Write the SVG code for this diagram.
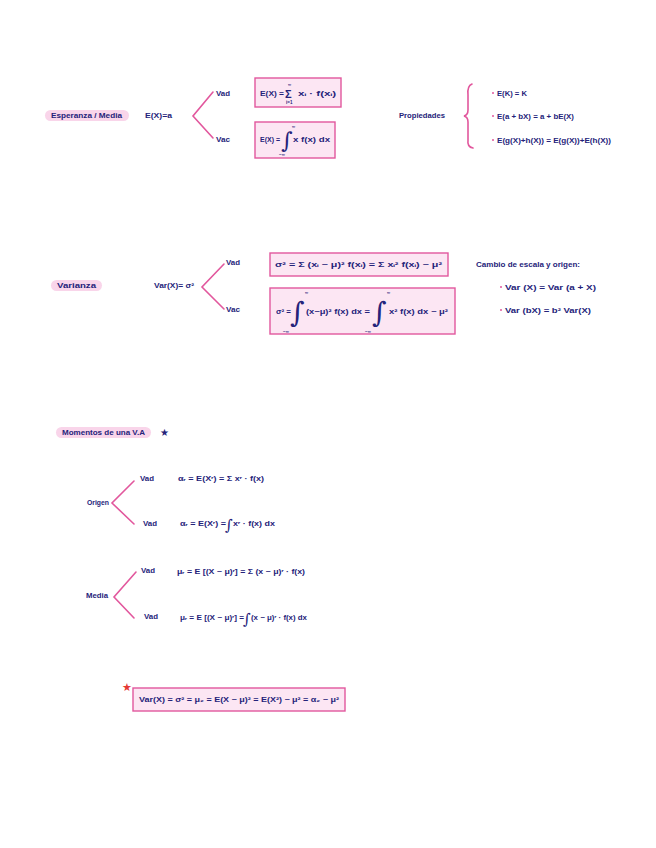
<svg xmlns="http://www.w3.org/2000/svg" width="656" height="848" viewBox="0 0 656 848">
<style>
.t{font-family:"Liberation Sans",Arial,sans-serif;font-size:7px;font-weight:bold;fill:#25237a}
.s{font-family:"Liberation Sans",Arial,sans-serif;font-size:4.5px;font-weight:bold;fill:#25237a}
.big{font-family:"DejaVu Serif",serif;font-size:20px;fill:#25237a}
.br{fill:none;stroke:#e2579d;stroke-width:1.6;stroke-linecap:round}
.box{fill:#fce6f3;stroke:#e2579d;stroke-width:1.4}
.pill{fill:#f9d5ea}
.dot{fill:#e2579d}
</style>
<rect width="656" height="848" fill="#ffffff"/>

<g id="connectors">
  <polyline class="br" points="213,92 193,116 213,138"/>
  <path class="br" d="M472,84 Q467,86 468,95 L468,110 Q468,115 464,116 Q468,117 468,122 L468,140 Q467,147 473,148"/>
  <polyline class="br" points="224,264 202,287 224,309"/>
  <polyline class="br" points="134,481 112,503 134,524"/>
  <polyline class="br" points="136,572 114,597 134,618"/>
</g>

<g id="esperanza">
  <rect class="pill" x="45" y="110" width="84" height="11" rx="5.5"/>
  <text class="t" x="51" y="118" textLength="71" lengthAdjust="spacingAndGlyphs">Esperanza / Media</text>
</g>
<g id="ex"><text class="t" x="145" y="118" textLength="27" lengthAdjust="spacingAndGlyphs">E(X)=a</text></g>
<g id="vad1"><text class="t" x="216" y="96" textLength="14" lengthAdjust="spacingAndGlyphs">Vad</text></g>
<g id="vac1"><text class="t" x="216" y="142" textLength="14" lengthAdjust="spacingAndGlyphs">Vac</text></g>
<g id="box-ed">
  <rect class="box" x="255" y="78" width="86" height="29"/>
  <text class="t" x="260" y="96" textLength="24" lengthAdjust="spacingAndGlyphs">E(X) =</text>
  <text class="t" x="285" y="98" style="font-size:11px">Σ</text>
  <text class="s" x="288" y="86">∞</text>
  <text class="s" x="286" y="104">i=1</text>
  <text class="t" x="298" y="96" textLength="38" lengthAdjust="spacingAndGlyphs">xᵢ · f(xᵢ)</text>
</g>
<g id="box-ec">
  <rect class="box" x="255" y="122" width="80" height="36"/>
  <text class="t" x="260" y="142" textLength="20" lengthAdjust="spacingAndGlyphs">E(X) =</text>
  <text class="big" x="281" y="148" style="font-size:22px">∫</text>
  <text class="s" x="292" y="128">∞</text>
  <text class="s" x="279" y="156">−∞</text>
  <text class="t" x="293" y="142" textLength="37" lengthAdjust="spacingAndGlyphs">x f(x) dx</text>
</g>
<g id="propiedades"><text class="t" x="399" y="118" textLength="46" lengthAdjust="spacingAndGlyphs">Propiedades</text></g>
<g id="prop1"><circle class="dot" cx="493" cy="93" r="1"/><text class="t" x="497" y="96" textLength="30" lengthAdjust="spacingAndGlyphs">E(K) = K</text></g>
<g id="prop2"><circle class="dot" cx="493" cy="116" r="1"/><text class="t" x="497" y="119" textLength="77" lengthAdjust="spacingAndGlyphs">E(a + bX) = a + bE(X)</text></g>
<g id="prop3"><circle class="dot" cx="493" cy="140" r="1"/><text class="t" x="497" y="143" textLength="114" lengthAdjust="spacingAndGlyphs">E(g(X)+h(X)) = E(g(X))+E(h(X))</text></g>

<g id="varianza">
  <rect class="pill" x="51" y="280" width="51" height="11" rx="5.5"/>
  <text class="t" x="57" y="288" textLength="39" lengthAdjust="spacingAndGlyphs">Varianza</text>
</g>
<g id="varx"><text class="t" x="154" y="288" textLength="40" lengthAdjust="spacingAndGlyphs">Var(X)= σ²</text></g>
<g id="vad2"><text class="t" x="226" y="265" textLength="14" lengthAdjust="spacingAndGlyphs">Vad</text></g>
<g id="vac2"><text class="t" x="226" y="312" textLength="14" lengthAdjust="spacingAndGlyphs">Vac</text></g>
<g id="box-vd">
  <rect class="box" x="270" y="253" width="178" height="23"/>
  <text class="t" x="275" y="267" textLength="167" lengthAdjust="spacingAndGlyphs">σ² = Σ (xᵢ − μ)² f(xᵢ)  =  Σ xᵢ² f(xᵢ) − μ²</text>
</g>
<g id="box-vc">
  <rect class="box" x="270" y="288" width="185" height="46"/>
  <text class="t" x="276" y="314" textLength="15" lengthAdjust="spacingAndGlyphs">σ² =</text>
  <text class="big" x="290" y="322" style="font-size:28px">∫</text>
  <text class="s" x="305" y="294">∞</text>
  <text class="s" x="283" y="333">−∞</text>
  <text class="t" x="306" y="314" textLength="64" lengthAdjust="spacingAndGlyphs">(x−μ)² f(x) dx =</text>
  <text class="big" x="372" y="322" style="font-size:28px">∫</text>
  <text class="s" x="387" y="294">∞</text>
  <text class="s" x="365" y="333">−∞</text>
  <text class="t" x="389" y="314" textLength="59" lengthAdjust="spacingAndGlyphs">x² f(x) dx − μ²</text>
</g>
<g id="cambio"><text class="t" x="476" y="267" textLength="104" lengthAdjust="spacingAndGlyphs">Cambio de escala y origen:</text></g>
<g id="cambio1"><circle class="dot" cx="501" cy="287" r="1"/><text class="t" x="505" y="290" textLength="91" lengthAdjust="spacingAndGlyphs">Var (X) = Var (a + X)</text></g>
<g id="cambio2"><circle class="dot" cx="501" cy="310" r="1"/><text class="t" x="505" y="313" textLength="86" lengthAdjust="spacingAndGlyphs">Var (bX) = b² Var(X)</text></g>

<g id="momentos">
  <rect class="pill" x="56" y="427" width="95" height="11" rx="5.5"/>
  <text class="t" x="62" y="435" textLength="83" lengthAdjust="spacingAndGlyphs">Momentos de una V.A</text>
  <text x="160" y="436" font-family="DejaVu Sans,sans-serif" font-size="10" fill="#25237a">★</text>
</g>
<g id="origen"><text class="t" x="87" y="505" textLength="22" lengthAdjust="spacingAndGlyphs">Origen</text></g>
<g id="vad3"><text class="t" x="140" y="481" textLength="14" lengthAdjust="spacingAndGlyphs">Vad</text></g>
<g id="vac3"><text class="t" x="143" y="526" textLength="14" lengthAdjust="spacingAndGlyphs">Vad</text></g>
<g id="or-d"><text class="t" x="178" y="481" textLength="86" lengthAdjust="spacingAndGlyphs">αᵣ = E(Xʳ) = Σ xʳ · f(x)</text></g>
<g id="or-c">
  <text class="t" x="180" y="526" textLength="46" lengthAdjust="spacingAndGlyphs">αᵣ = E(Xʳ) =</text>
  <text class="big" x="225" y="530" style="font-size:15px">∫</text>
  <text class="t" x="233" y="526" textLength="42" lengthAdjust="spacingAndGlyphs">xʳ · f(x) dx</text>
</g>
<g id="media"><text class="t" x="86" y="598" textLength="22" lengthAdjust="spacingAndGlyphs">Media</text></g>
<g id="vad4"><text class="t" x="141" y="573" textLength="14" lengthAdjust="spacingAndGlyphs">Vad</text></g>
<g id="vac4"><text class="t" x="144" y="619" textLength="14" lengthAdjust="spacingAndGlyphs">Vad</text></g>
<g id="me-d"><text class="t" x="177" y="574" textLength="128" lengthAdjust="spacingAndGlyphs">μᵣ = E [(X − μ)ʳ] =  Σ (x − μ)ʳ · f(x)</text></g>
<g id="me-c">
  <text class="t" x="180" y="620" textLength="64" lengthAdjust="spacingAndGlyphs">μᵣ = E [(X − μ)ʳ] =</text>
  <text class="big" x="243" y="624" style="font-size:15px">∫</text>
  <text class="t" x="251" y="620" textLength="56" lengthAdjust="spacingAndGlyphs">(x − μ)ʳ · f(x) dx</text>
</g>
<g id="box-resumen">
  <text x="122" y="691" font-family="DejaVu Sans,sans-serif" font-size="11" fill="#e53935">★</text>
  <rect class="box" x="133" y="688" width="212" height="23"/>
  <text class="t" x="139" y="702" textLength="200" lengthAdjust="spacingAndGlyphs">Var(X) = σ² = μ₂ = E(X − μ)² = E(X²) − μ²  =  α₂ − μ²</text>
</g>
</svg>
